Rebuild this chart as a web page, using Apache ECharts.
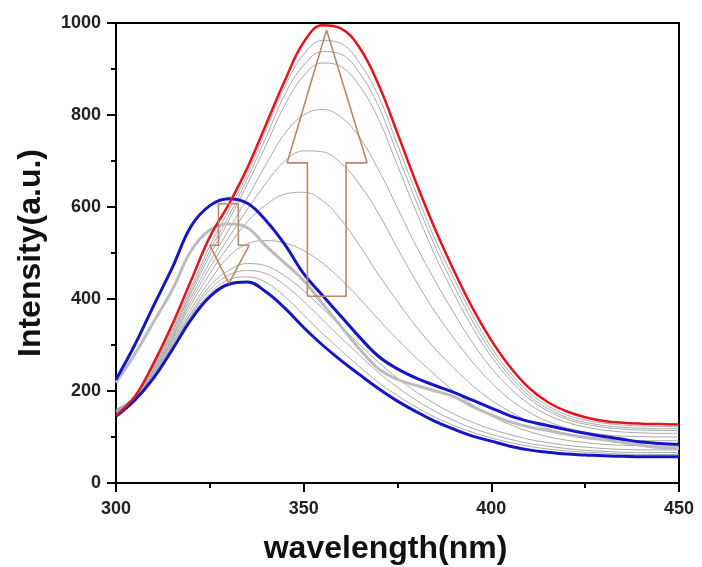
<!DOCTYPE html>
<html>
<head>
<meta charset="utf-8">
<script src="https://cdn.jsdelivr.net/npm/echarts@6/dist/echarts.min.js"></script>
<style>
html,body{margin:0;padding:0;background:#fff;}
#chart{width:702px;height:567px;}
</style>
</head>
<body>
<div id="chart"></div>
<script>
// wavelength grid (nm)
const wavelengths = [300,305,310,315,320,325,330,335,340,345,350,355,360,365,370,375,380,385,390,395,400,405,410,415,420,425,430,435,440,445,450];
const xTicks = [300,350,400,450];
const yTicks = [0,200,400,600,800,1000];

// final spectrum (red)
const redFinal = [147,188,260,345,440,535,605,685,780,875,958,995,988,945,865,760,652,552,462,380,310,252,207,176,156,143,135,131,129,128,127];
// blue spectra
const blueUpper = [225,300,385,468,558,603,618,608,570,518,455,408,362,316,275,248,228,212,197,180,163,146,134,125,116,108,101,95,89,86,84];
const blueLower = [145,180,228,290,355,405,432,437,415,380,338,300,266,235,205,178,155,134,117,102,91,80,72,67,63,61,59,58,57,57,57];
// thick gray spectrum
const grayThick = [218,280,350,420,505,550,563,555,515,478,440,390,340,290,248,225,212,200,188,166,148,133,122,114,106,99,94,88,82,77,75];
// thin gray titration spectra
const g1  = [152,183,232,296,362,412,442,448,436,405,365,325,288,252,218,190,165,143,125,110,98,88,80,74,70,67,65,63,62,62,62];
const g2  = [154,184,234,300,366,420,452,462,455,430,395,355,315,277,240,208,180,156,136,119,106,95,86,80,75,71,69,67,66,66,66];
const g3  = [155,185,236,304,370,428,462,477,472,450,418,380,340,300,262,228,198,172,150,132,117,105,95,88,82,78,75,73,72,72,72];
const g4  = [156,185,238,308,378,440,492,520,527,522,505,478,442,400,355,312,272,235,200,170,146,127,112,101,93,88,84,82,81,80,80];
const g5  = [157,186,240,312,388,455,515,568,605,628,632,614,572,515,452,395,340,292,250,212,180,155,134,118,107,100,96,93,92,92,92];
const g6  = [158,186,243,316,396,468,533,595,652,700,722,720,695,648,585,510,438,372,315,263,218,182,154,134,120,111,105,102,101,100,100];
const g7  = [158,187,246,320,404,480,550,620,693,760,800,812,795,750,680,598,515,440,370,305,250,206,172,148,132,122,115,111,109,108,108];
const g8  = [159,187,249,326,412,495,570,650,735,822,885,913,905,862,790,690,590,495,412,338,275,224,184,157,139,128,121,117,115,114,114];
const g9  = [159,188,252,330,418,505,580,662,752,845,908,938,932,890,818,715,612,515,430,352,285,232,190,162,143,132,125,121,119,118,118];
const g10 = [160,188,255,336,425,515,592,672,768,862,932,962,955,912,840,735,630,530,445,365,295,240,197,168,148,137,130,126,124,123,122];
const thinGrays = [g1,g2,g3,g4,g5,g6,g7,g8,g9,g10];

// annotation arrows (outline vertices, in nm / intensity units)
const bigArrowNm  = [351.0,351.0,345.6,356.1,366.9,361.3,361.3,351.0];
const bigArrowVal = [406,696,696,985,696,696,406,406];
const smallArrowNm  = [327.3,332.6,332.6,335.5,330.1,325.0,327.3,327.3];
const smallArrowVal = [607,607,517,517,434,517,517,607];

const pairs = (ys) => wavelengths.map((x,i)=>[x,ys[i]]);
const zipPts = (xs,ys) => xs.map((x,i)=>[x,ys[i]]);

const chart = echarts.init(document.getElementById('chart'), null, {renderer:'canvas'});

const series = [];
thinGrays.forEach((g)=>{
  series.push({type:'line', data:pairs(g), smooth:0.4, symbol:'none', silent:true,
    lineStyle:{color:'#a9a9a9', width:1}, z:2});
});
series.push({type:'line', data:pairs(grayThick), smooth:0.4, symbol:'none', silent:true,
  lineStyle:{color:'#bcbcbc', width:3}, z:3});
series.push({type:'line', data:pairs(blueLower), smooth:0.4, symbol:'none', silent:true,
  lineStyle:{color:'#1515c4', width:3}, z:4});
series.push({type:'line', data:pairs(blueUpper), smooth:0.4, symbol:'none', silent:true,
  lineStyle:{color:'#1515c4', width:3}, z:4});
series.push({type:'line', data:pairs(redFinal), smooth:0.4, symbol:'none', silent:true,
  lineStyle:{color:'#e3161c', width:2.5}, z:5});
series.push({type:'line', data:zipPts(bigArrowNm,bigArrowVal), smooth:false, symbol:'none', silent:true,
  lineStyle:{color:'#b58a70', width:1.6}, z:6});
series.push({type:'line', data:zipPts(smallArrowNm,smallArrowVal), smooth:false, symbol:'none', silent:true,
  lineStyle:{color:'#b58a70', width:1.6}, z:6});

const font = 'Liberation Sans, Arial, sans-serif';

chart.setOption({
  animation:false,
  backgroundColor:'#fff',
  grid:{left:116, right:23, top:23, bottom:84, outerBoundsMode:'none', containLabel:false,
    show:true, borderColor:'#000', borderWidth:2, backgroundColor:'transparent'},
  xAxis:{
    type:'value', min:xTicks[0], max:xTicks[xTicks.length-1], interval:50,
    name:'wavelength(nm)', nameLocation:'middle', nameGap:50,
    nameTextStyle:{fontFamily:font, fontWeight:'bold', fontSize:32, color:'#111', padding:[0,24,0,0]},
    axisLine:{show:true, onZero:false, lineStyle:{color:'#000', width:2}},
    axisTick:{show:true, inside:false, length:9, lineStyle:{color:'#000', width:2}},
    minorTick:{show:true, splitNumber:2, length:5, lineStyle:{color:'#000', width:2}},
    axisLabel:{fontFamily:font, fontWeight:'bold', fontSize:18, color:'#222', margin:17,
      formatter:(v)=>String(v)},
    splitLine:{show:false}
  },
  yAxis:{
    type:'value', min:yTicks[0], max:yTicks[yTicks.length-1], interval:200,
    name:'Intensity(a.u.)', nameLocation:'middle', nameGap:69,
    nameTextStyle:{fontFamily:font, fontWeight:'bold', fontSize:32, color:'#111'},
    axisLine:{show:true, onZero:false, lineStyle:{color:'#000', width:2}},
    axisTick:{show:true, inside:false, length:9, lineStyle:{color:'#000', width:2}},
    minorTick:{show:true, splitNumber:2, length:5, lineStyle:{color:'#000', width:2}},
    axisLabel:{fontFamily:font, fontWeight:'bold', fontSize:18, color:'#222', margin:15,
      formatter:(v)=>String(v)},
    splitLine:{show:false}
  },
  series:series
});
</script>
</body>
</html>
